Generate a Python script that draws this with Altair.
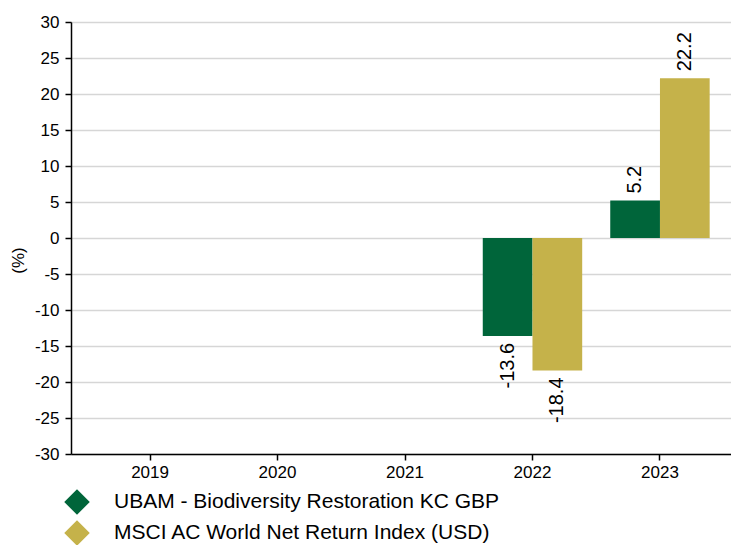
import altair as alt
import pandas as pd

years = ["2019", "2020", "2021", "2022", "2023"]
series_names = ["UBAM - Biodiversity Restoration KC GBP", "MSCI AC World Net Return Index (USD)"]
fund_values = [None, None, None, -13.6, 5.2]
index_values = [None, None, None, -18.4, 22.2]
colors = ["#00653A", "#C5B24A"]
y_ticks = list(range(-30, 31, 5))

rows = []
for y, f, i in zip(years, fund_values, index_values):
    rows.append({"year": y, "series": series_names[0], "value": f})
    rows.append({"year": y, "series": series_names[1], "value": i})
df = pd.DataFrame(rows)
df = df.dropna()
df["label"] = df["value"].map(lambda v: f"{v:.1f}")

font = "Liberation Sans"

x_scale = alt.Scale(domain=years, range=[0, 668], paddingInner=0.22, paddingOuter=0.23)
x_axis = alt.Axis(title=None, labelAngle=0, labelFontSize=17, labelColor="#000",
                  labelFont=font, tickColor="#000", tickSize=6, tickWidth=1.5,
                  domainColor="#000", domainWidth=1.5, labelPadding=4, grid=False)
y_scale = alt.Scale(domain=[-30, 30], nice=False, zero=False)
y_axis = alt.Axis(title="(%)", values=y_ticks, labelExpr="datum.value", labelFontSize=17,
                  labelColor="#000", labelFont=font, titleFont=font, titleFontSize=17,
                  titleFontWeight="normal", titleColor="#000", titleX=-53, titleY=238,
                  titleAngle=270, titleAlign="center", titleBaseline="middle",
                  tickColor="#000", tickSize=6, tickWidth=1.5, domainColor="#000",
                  domainWidth=1.5, gridColor="#d6d6d6", gridWidth=1.5, labelPadding=6)

x_enc = alt.X("year:N", scale=x_scale, axis=x_axis)
xo_enc = alt.XOffset("series:N", scale=alt.Scale(domain=series_names, paddingInner=0, paddingOuter=0))
y_enc = alt.Y("value:Q", scale=y_scale, axis=y_axis)

bars = alt.Chart(df).mark_bar().encode(
    x=x_enc,
    xOffset=xo_enc,
    y=y_enc,
    color=alt.Color("series:N", scale=alt.Scale(domain=series_names, range=colors),
                    legend=alt.Legend(title=None, orient="none", legendX=-7, legendY=467,
                                      direction="vertical", symbolType="diamond", symbolSize=650,
                                      symbolStrokeWidth=0, labelFontSize=21, labelFont=font,
                                      labelColor="#000", labelLimit=0, rowPadding=5,
                                      labelOffset=24, padding=0)),
)

pos_text = alt.Chart(df).transform_filter("datum.value >= 0").mark_text(
    angle=270, align="left", baseline="middle", dx=7, fontSize=20, font=font, color="#000"
).encode(x=x_enc, xOffset=xo_enc, y=y_enc, text="label:N")

neg_text = alt.Chart(df).transform_filter("datum.value < 0").mark_text(
    angle=270, align="right", baseline="middle", dx=-7, fontSize=20, font=font, color="#000"
).encode(x=x_enc, xOffset=xo_enc, y=y_enc, text="label:N")

chart = alt.layer(bars, pos_text, neg_text).properties(
    width=660, height=432,
    autosize=alt.AutoSizeParams(type="none"),
    padding={"left": 63, "top": 14, "right": 0, "bottom": 91},
).configure_view(stroke=None).configure(background="white")

chart.save("out.html", embed_options={"renderer": "svg", "actions": False})
